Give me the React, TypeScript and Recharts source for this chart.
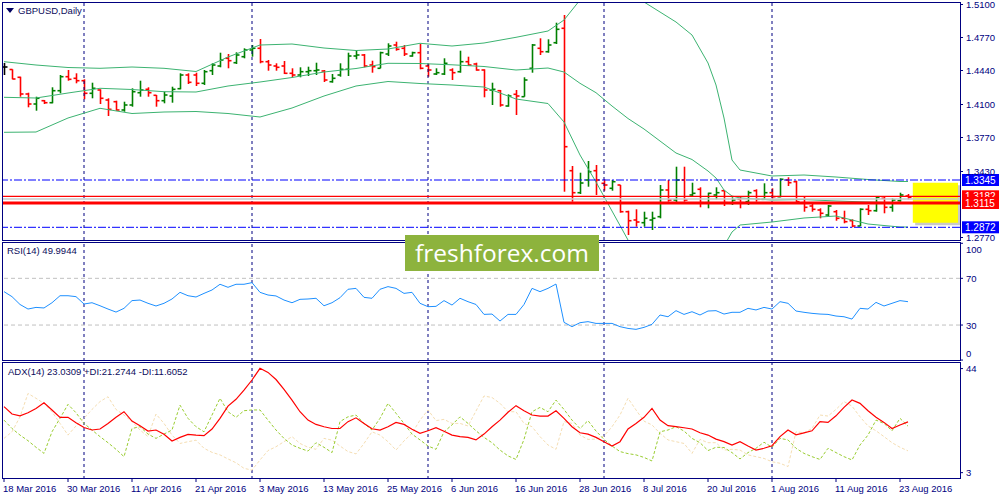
import React from 'react';
import { ComposedChart, Bar, Line, XAxis, YAxis, ReferenceLine, ReferenceArea } from 'recharts';

const FONT = '"Liberation Sans", Arial, sans-serif';
const NAVY = '#000080';
const UP = '#008000';
const DOWN = '#FF0000';
const X_DOMAIN: [number, number] = [-0.25, 119.5];

// daily OHLC, 18 Mar 2016 .. 24 Aug 2016 (one entry per trading day)
const open = [
  1.4475, 1.4450, 1.4372, 1.4205, 1.4105, 1.4138, 1.4118, 1.4238, 1.4378, 1.4362,
  1.4338, 1.4212, 1.4245, 1.4145, 1.4128, 1.4045, 1.4095, 1.4218, 1.4252, 1.4192,
  1.4138, 1.4185, 1.4258, 1.4395, 1.4395, 1.4312, 1.4438, 1.4485, 1.4562, 1.4518,
  1.4578, 1.4645, 1.4662, 1.4528, 1.4485, 1.4485, 1.4412, 1.4395, 1.4428, 1.4438,
  1.4435, 1.4328, 1.4395, 1.4452, 1.4585, 1.4595, 1.4495, 1.4462, 1.4605, 1.4695,
  1.4662, 1.4585, 1.4618, 1.4485, 1.4405, 1.4405, 1.4445, 1.4428, 1.4528, 1.4505,
  1.4445, 1.4245, 1.4238, 1.4085, 1.4202, 1.4178, 1.4462, 1.4662, 1.4628, 1.4718,
  1.4862, 1.3438, 1.3218, 1.3345, 1.3438, 1.3312, 1.3262, 1.3295, 1.3028, 1.2945,
  1.2918, 1.2945, 1.2978, 1.3245, 1.3145, 1.3345, 1.3195, 1.3252, 1.3118, 1.3195,
  1.3238, 1.3112, 1.3152, 1.3128, 1.3238, 1.3152, 1.3218, 1.3178, 1.3345, 1.3328,
  1.3118, 1.3085, 1.3045, 1.2995, 1.3028, 1.2962, 1.2938, 1.2885, 1.3052, 1.3038,
  1.3162, 1.3072, 1.3138, 1.3185,
];
const high = [
  1.4515, 1.4452, 1.4378, 1.4218, 1.4178, 1.4145, 1.4272, 1.4395, 1.4445, 1.4412,
  1.4352, 1.4318, 1.4252, 1.4162, 1.4138, 1.4128, 1.4262, 1.4338, 1.4272, 1.4195,
  1.4228, 1.4278, 1.4412, 1.4412, 1.4418, 1.4445, 1.4512, 1.4618, 1.4605, 1.4622,
  1.4662, 1.4695, 1.4755, 1.4545, 1.4512, 1.4535, 1.4462, 1.4472, 1.4478, 1.4518,
  1.4445, 1.4405, 1.4512, 1.4618, 1.4645, 1.4605, 1.4538, 1.4628, 1.4712, 1.4728,
  1.4695, 1.4628, 1.4705, 1.4505, 1.4462, 1.4562, 1.4462, 1.4638, 1.4578, 1.4518,
  1.4452, 1.4318, 1.4245, 1.4202, 1.4245, 1.4372, 1.4705, 1.4762, 1.4752, 1.4918,
  1.4995, 1.3485, 1.3418, 1.3535, 1.3495, 1.3352, 1.3345, 1.3295, 1.3038, 1.3052,
  1.3028, 1.3028, 1.3295, 1.3345, 1.3478, 1.3478, 1.3318, 1.3272, 1.3218, 1.3272,
  1.3238, 1.3172, 1.3185, 1.3238, 1.3252, 1.3312, 1.3262, 1.3362, 1.3372, 1.3338,
  1.3178, 1.3112, 1.3062, 1.3095, 1.3045, 1.3038, 1.2952, 1.3062, 1.3095, 1.3178,
  1.3178, 1.3162, 1.3218, 1.3205,
];
const low = [
  1.4395, 1.4352, 1.4178, 1.4072, 1.4038, 1.4105, 1.4112, 1.4212, 1.4338, 1.4312,
  1.4152, 1.4162, 1.4105, 1.3985, 1.4038, 1.4028, 1.4078, 1.4178, 1.4178, 1.4078,
  1.4112, 1.4118, 1.4252, 1.4305, 1.4285, 1.4295, 1.4395, 1.4472, 1.4462, 1.4505,
  1.4562, 1.4578, 1.4512, 1.4438, 1.4438, 1.4405, 1.4372, 1.4372, 1.4385, 1.4395,
  1.4325, 1.4318, 1.4378, 1.4385, 1.4552, 1.4472, 1.4418, 1.4462, 1.4585, 1.4638,
  1.4585, 1.4578, 1.4452, 1.4378, 1.4395, 1.4395, 1.4345, 1.4418, 1.4485, 1.4438,
  1.4172, 1.4095, 1.4078, 1.4078, 1.3995, 1.4178, 1.4418, 1.4595, 1.4618, 1.4705,
  1.3228, 1.3128, 1.3205, 1.3278, 1.3195, 1.3238, 1.3238, 1.3018, 1.2795, 1.2878,
  1.2878, 1.2845, 1.2962, 1.3128, 1.3105, 1.3128, 1.3178, 1.3072, 1.3062, 1.3152,
  1.3085, 1.3095, 1.3062, 1.3095, 1.3128, 1.3145, 1.3152, 1.3172, 1.3285, 1.3112,
  1.3028, 1.3028, 1.2962, 1.2978, 1.2938, 1.2912, 1.2872, 1.2885, 1.2995, 1.3028,
  1.3012, 1.3028, 1.3128, 1.3152,
];
const close = [
  1.4475, 1.4355, 1.4205, 1.4105, 1.4162, 1.4118, 1.4238, 1.4378, 1.4352, 1.4338,
  1.4212, 1.4262, 1.4162, 1.4052, 1.4045, 1.4095, 1.4228, 1.4245, 1.4218, 1.4138,
  1.4195, 1.4252, 1.4395, 1.4322, 1.4312, 1.4428, 1.4495, 1.4545, 1.4538, 1.4595,
  1.4645, 1.4662, 1.4528, 1.4495, 1.4472, 1.4412, 1.4395, 1.4428, 1.4438, 1.4445,
  1.4345, 1.4362, 1.4452, 1.4585, 1.4595, 1.4485, 1.4478, 1.4618, 1.4685, 1.4652,
  1.4605, 1.4618, 1.4462, 1.4445, 1.4418, 1.4512, 1.4418, 1.4528, 1.4495, 1.4445,
  1.4245, 1.4252, 1.4095, 1.4185, 1.4185, 1.4345, 1.4695, 1.4628, 1.4695, 1.4852,
  1.3678, 1.3218, 1.3315, 1.3428, 1.3345, 1.3295, 1.3328, 1.3028, 1.2938, 1.2925,
  1.2962, 1.2962, 1.3245, 1.3145, 1.3345, 1.3145, 1.3212, 1.3118, 1.3212, 1.3218,
  1.3118, 1.3145, 1.3118, 1.3218, 1.3152, 1.3218, 1.3178, 1.3352, 1.3318, 1.3128,
  1.3072, 1.3052, 1.3012, 1.3085, 1.2962, 1.2928, 1.2885, 1.3052, 1.3038, 1.3172,
  1.3072, 1.3145, 1.3195, 1.3172,
];

// Bollinger bands, read at these bar positions
const bandIdx = [0, 4, 8, 12, 16, 20, 24, 28, 32, 36, 40, 44, 48, 52, 56, 60, 64, 68, 70, 72, 74, 76, 78, 80, 84, 86, 88, 89, 90, 91, 92, 96, 100, 104, 108, 112, 113];
const upper = [1.4528, 1.4495, 1.4470, 1.4462, 1.4475, 1.4462, 1.4430, 1.4575, 1.4695, 1.4705, 1.4665, 1.4640, 1.4655, 1.4712, 1.4685, 1.4715, 1.4772, 1.4835, 1.4945, 1.5145, 1.5225, 1.5265, 1.5225, 1.5125, 1.4925, 1.4795, 1.4515, 1.4295, 1.3965, 1.3545, 1.3445, 1.3385, 1.3395, 1.3375, 1.3350, 1.3330, 1.3330];
const middle = [1.4172, 1.4165, 1.4215, 1.4262, 1.4250, 1.4228, 1.4225, 1.4285, 1.4325, 1.4370, 1.4425, 1.4460, 1.4512, 1.4510, 1.4497, 1.4480, 1.4445, 1.4465, 1.4425, 1.4312, 1.4218, 1.4085, 1.3960, 1.3855, 1.3615, 1.3550, 1.3435, 1.3365, 1.3245, 1.3185, 1.3165, 1.3145, 1.3150, 1.3135, 1.3125, 1.3118, 1.3118];
const lower = [1.3822, 1.3825, 1.3965, 1.4062, 1.4010, 1.4025, 1.4030, 1.4010, 1.3975, 1.4065, 1.4185, 1.4285, 1.4330, 1.4310, 1.4295, 1.4275, 1.4155, 1.4110, 1.3925, 1.3595, 1.3325, 1.3035, 1.2745, 1.2525, 1.2295, 1.2345, 1.2495, 1.2595, 1.2685, 1.2825, 1.2895, 1.2925, 1.2965, 1.2985, 1.2905, 1.2875, 1.2875];

const rsi = [
  58.6, 54.3, 47.6, 43.7, 45.1, 44.6, 49.1, 55.1, 55.1, 54.3,
  48.0, 49.1, 46.5, 43.7, 41.1, 44.3, 50.9, 51.4, 48.6, 46.3,
  48.6, 52.3, 58.0, 55.1, 54.0, 57.1, 60.0, 64.9, 62.3, 64.9,
  64.9, 66.3, 58.0, 55.7, 54.9, 51.4, 49.1, 52.0, 52.3, 52.9,
  46.5, 49.1, 53.4, 60.6, 61.4, 53.7, 52.9, 60.6, 62.9, 61.4,
  57.1, 58.0, 48.6, 45.7, 46.0, 50.9, 47.1, 52.9, 50.0, 47.6,
  39.1, 39.4, 33.4, 39.1, 39.1, 47.6, 61.4, 58.6, 61.4, 65.1,
  32.3, 28.6, 32.0, 32.9, 31.4, 31.4, 31.4, 28.6, 27.1, 26.3,
  28.0, 30.6, 38.6, 37.1, 42.3, 39.1, 41.4, 38.6, 42.0, 42.3,
  39.4, 40.9, 40.9, 44.3, 42.9, 45.1, 43.7, 50.0, 48.6, 42.0,
  40.9, 40.0, 39.4, 39.1, 37.7, 37.1, 35.1, 44.3, 43.7, 49.4,
  46.3, 48.6, 50.9, 50.0,
];

const adx = [
  29.0, 26.1, 25.4, 26.6, 28.3, 30.5, 27.7, 24.8, 24.8, 22.7,
  20.8, 19.8, 20.2, 22.4, 24.8, 27.0, 23.3, 21.5, 19.4, 19.8,
  18.1, 15.5, 16.9, 18.1, 17.8, 17.6, 20.2, 24.4, 29.2, 31.9,
  35.5, 39.5, 44.1, 42.5, 39.7, 35.8, 31.6, 27.0, 23.7, 22.0,
  21.1, 20.4, 20.4, 23.1, 24.6, 22.4, 20.3, 19.8, 21.1, 22.8,
  22.0, 20.1, 18.5, 19.5, 20.7, 19.3, 17.8, 17.2, 16.9, 15.9,
  18.2, 21.1, 23.7, 26.8, 29.4, 27.4, 25.7, 25.3, 25.3, 27.4,
  24.4, 21.1, 18.7, 18.2, 16.9, 15.2, 13.5, 15.2, 20.2, 22.4,
  24.8, 28.3, 23.7, 21.5, 21.1, 20.7, 20.2, 18.7, 17.8, 16.2,
  15.2, 13.9, 15.2, 13.5, 11.9, 12.6, 13.6, 17.2, 19.8, 17.9,
  18.7, 19.5, 23.1, 22.8, 25.4, 28.7, 31.6, 30.3, 27.4, 24.8,
  22.8, 20.4, 21.8, 23.0,
];
const plusDi = [
  23.7, 20.4, 17.8, 15.6, 13.0, 10.6, 19.1, 24.4, 29.9, 26.6,
  22.4, 19.8, 17.2, 14.8, 12.2, 9.3, 20.4, 21.1, 18.2, 16.5,
  18.2, 19.8, 29.6, 24.4, 21.1, 19.1, 25.7, 32.3, 27.0, 24.8,
  27.4, 27.7, 27.7, 23.7, 19.8, 16.5, 13.9, 12.6, 11.5, 14.8,
  13.0, 10.9, 23.1, 25.0, 25.7, 22.4, 19.8, 24.4, 30.3, 26.4,
  22.4, 18.2, 15.9, 13.5, 12.2, 19.1, 21.8, 25.0, 22.4, 19.5,
  16.9, 14.8, 11.9, 9.6, 8.2, 16.1, 27.0, 28.7, 27.0, 31.6,
  27.9, 23.7, 20.4, 23.5, 19.4, 16.1, 13.5, 11.3, 10.5, 10.0,
  9.0, 7.6, 19.1, 19.8, 21.1, 19.4, 16.5, 14.8, 11.7, 13.0,
  12.9, 10.9, 8.4, 10.9, 12.6, 15.0, 13.0, 16.5, 15.9, 12.6,
  10.6, 9.3, 8.2, 12.6, 10.9, 9.3, 8.0, 13.9, 17.8, 23.7,
  22.4, 19.5, 24.4, 21.3,
];
const minusDi = [
  16.5, 19.1, 25.0, 34.2, 32.3, 30.3, 27.0, 22.4, 17.8, 21.4,
  24.4, 27.9, 31.0, 32.9, 27.9, 25.7, 23.1, 19.8, 17.2, 26.1,
  22.4, 17.8, 14.5, 15.2, 15.8, 12.6, 11.0, 10.0, 8.4, 6.9,
  4.7, 4.0, 8.0, 11.7, 13.2, 15.2, 17.2, 14.5, 13.0, 12.2,
  16.5, 15.8, 13.5, 11.3, 10.4, 14.5, 19.1, 17.8, 15.2, 11.9,
  15.5, 18.5, 23.7, 27.7, 23.5, 24.0, 22.4, 22.4, 21.4, 27.3,
  33.2, 32.6, 30.3, 27.0, 27.0, 22.4, 21.1, 17.2, 13.9, 12.2,
  23.1, 22.4, 17.8, 16.1, 16.2, 17.4, 21.1, 25.7, 32.3, 27.7,
  23.3, 21.8, 18.5, 15.9, 15.2, 14.5, 10.6, 16.1, 14.8, 14.8,
  11.9, 12.2, 11.9, 10.0, 9.3, 8.6, 7.3, 6.7, 5.4, 19.1,
  18.7, 20.4, 25.7, 25.3, 27.9, 31.0, 29.2, 25.0, 21.4, 19.5,
  17.2, 14.8, 13.0, 11.6,
];

const monthStarts = [10, 31, 53, 75, 96];
const dateTickIdx = [0, 8, 16, 24, 32, 40, 48, 56, 64, 72, 80, 88, 96, 104, 112];
const dateLabels = ['18 Mar 2016', '30 Mar 2016', '11 Apr 2016', '21 Apr 2016', '3 May 2016', '13 May 2016', '25 May 2016', '6 Jun 2016', '16 Jun 2016', '28 Jun 2016', '8 Jul 2016', '20 Jul 2016', '1 Aug 2016', '11 Aug 2016', '23 Aug 2016'];
const priceTicks = [1.277, 1.343, 1.377, 1.41, 1.444, 1.477, 1.51];

const bars = open.map((o, i) => ({ i, open: o, high: high[i], low: low[i], close: close[i] }));
const bands = bandIdx.map((b, k) => ({ i: b, upper: upper[k], middle: middle[k], lower: lower[k] }));
const rsiData = rsi.map((v, i) => ({ i, rsi: v }));
const adxData = adx.map((v, i) => ({ i, adx: v, plusDi: plusDi[i], minusDi: minusDi[i] }));

// MT4 style bar: high-low stick, open tick left, close tick right
function OhlcBar(props: any) {
  const { x, y, width, height, payload } = props;
  if (!payload || height == null) return null;
  const cx = Math.round(x + width / 2) + 0.5;
  const top = Math.min(y, y + height);
  const h = Math.abs(height);
  const span = payload.high - payload.low || 1;
  const toY = (p: number) => top + ((payload.high - p) / span) * h;
  const color = payload.close > payload.open ? UP : payload.close < payload.open ? DOWN : '#000';
  const yo = toY(payload.open);
  const yc = toY(payload.close);
  return (
    <g stroke={color} strokeWidth={1.6}>
      <line x1={cx} x2={cx} y1={top} y2={top + h} />
      <line x1={cx - 3} x2={cx} y1={yo} y2={yo} />
      <line x1={cx} x2={cx + 3} y1={yc} y2={yc} />
    </g>
  );
}

function PriceTag(props: any) {
  const { viewBox, fill, text } = props;
  if (!viewBox) return null;
  const right = viewBox.x + viewBox.width;
  const cy = viewBox.y;
  return (
    <g>
      <rect x={right + 2} y={cy - 6} width={37} height={12} fill={fill} />
      <text x={right + 5} y={cy + 3.5} fill="#fff" fontSize={10} fontFamily={FONT}>{text}</text>
    </g>
  );
}

function RsiTick(props: any) {
  const { x, y, payload } = props;
  const v = payload.value;
  const dy = v === 100 ? 6 : v === 0 ? -7 : 0;
  return (
    <text x={x} y={y + dy + 3.5} fill={NAVY} fontSize={9.5} fontFamily={FONT}>{v}</text>
  );
}

function DateTick(props: any) {
  const { x, y, payload } = props;
  const k = dateTickIdx.indexOf(payload.value);
  return (
    <g>
      <line x1={x} x2={x} y1={y} y2={y + 3} stroke={NAVY} />
      <text x={x - 1} y={y + 13} fill={NAVY} fontSize={9.5} fontFamily={FONT}>{dateLabels[k]}</text>
    </g>
  );
}

const yTick = { fill: NAVY, fontSize: 9.5, fontFamily: FONT };

const paneBox = (top: number, height: number): React.CSSProperties => ({
  position: 'absolute', left: 2, top, width: 959, height, border: `1px solid ${NAVY}`, boxSizing: 'border-box', pointerEvents: 'none',
});
const caption: React.CSSProperties = {
  position: 'absolute', fontFamily: FONT, fontSize: 9.5, color: '#0c0c5c', whiteSpace: 'nowrap', lineHeight: '12px',
};

export default function App() {
  return (
    <div style={{ position: 'absolute', left: 0, top: 0, width: 1000, height: 500, background: '#fff', overflow: 'hidden' }}>
      <div style={{ position: 'absolute', left: 0, top: 0 }}>
        <ComposedChart width={1000} height={241} data={bars} margin={{ top: 2, right: 0, bottom: 1, left: 2 }}>
          <XAxis type="number" dataKey="i" domain={X_DOMAIN} hide allowDataOverflow />
          <YAxis orientation="right" width={40} domain={[1.2745, 1.5125]} allowDataOverflow ticks={priceTicks} interval={0}
            tickFormatter={(v: number) => v.toFixed(4)} tick={yTick} axisLine={false} tickLine={{ stroke: NAVY }} tickSize={3} tickMargin={3} />
          {monthStarts.map((m) => (
            <ReferenceLine key={m} x={m} stroke={NAVY} strokeDasharray="3 3" />
          ))}
          <Line data={bands} dataKey="upper" stroke="#3CB371" strokeWidth={1} dot={false} activeDot={false} isAnimationActive={false} />
          <Line data={bands} dataKey="middle" stroke="#3CB371" strokeWidth={1} dot={false} activeDot={false} isAnimationActive={false} />
          <Line data={bands} dataKey="lower" stroke="#3CB371" strokeWidth={1} dot={false} activeDot={false} isAnimationActive={false} />
          <Bar dataKey={(d: any) => [d.low, d.high]} barSize={7} shape={<OhlcBar />} isAnimationActive={false} />
          <ReferenceLine y={1.3155} stroke="#C8C8C8" strokeWidth={1.5} />
          <ReferenceLine y={1.3345} stroke="#0000FF" strokeDasharray="8 2 2 2" label={<PriceTag fill="#0000FF" text="1.3345" />} />
          <ReferenceLine y={1.2872} stroke="#0000FF" strokeDasharray="8 2 2 2" label={<PriceTag fill="#0000FF" text="1.2872" />} />
          <ReferenceLine y={1.3182} stroke="#FF0000" strokeWidth={1.2} label={<PriceTag fill="#FF0000" text="1.3182" />} />
          <ReferenceLine y={1.3115} stroke="#FF0000" strokeWidth={3} label={<PriceTag fill="#FF0000" text="1.3115" />} />
          <ReferenceArea x1={113.9} x2={119.5} y1={1.2893} y2={1.3293} fill="#888" fillOpacity={0.45} />
          <ReferenceArea x1={113.6} x2={119.25} y1={1.2918} y2={1.3318} fill="#FFFF00" fillOpacity={1} />
        </ComposedChart>
      </div>

      <div style={{ position: 'absolute', left: 0, top: 241 }}>
        <ComposedChart width={1000} height={120} data={rsiData} margin={{ top: 1, right: 0, bottom: 0, left: 2 }}>
          <XAxis type="number" dataKey="i" domain={X_DOMAIN} hide allowDataOverflow />
          <YAxis orientation="right" width={40} domain={[-0.8, 101.1]} allowDataOverflow ticks={[0, 30, 70, 100]} interval={0}
            tick={<RsiTick />} axisLine={false} tickLine={{ stroke: NAVY }} tickSize={3} tickMargin={3} />
          {monthStarts.map((m) => (
            <ReferenceLine key={m} x={m} stroke={NAVY} strokeDasharray="3 3" />
          ))}
          <ReferenceLine y={70} stroke="#C0C0C0" strokeDasharray="4 3" />
          <ReferenceLine y={30} stroke="#C0C0C0" strokeDasharray="4 3" />
          <Line dataKey="rsi" stroke="#1E90FF" strokeWidth={1} dot={false} activeDot={false} isAnimationActive={false} />
        </ComposedChart>
      </div>

      <div style={{ position: 'absolute', left: 0, top: 362 }}>
        <ComposedChart width={1000} height={138} data={adxData} margin={{ top: 1, right: 0, bottom: 1, left: 2 }}>
          <XAxis type="number" dataKey="i" domain={X_DOMAIN} allowDataOverflow ticks={dateTickIdx} interval={0} height={20}
            tick={<DateTick />} axisLine={false} tickLine={false} tickSize={0} tickMargin={0} />
          <YAxis orientation="right" width={40} domain={[0.5, 46.2]} allowDataOverflow ticks={[3, 44]} interval={0}
            tick={yTick} axisLine={false} tickLine={{ stroke: NAVY }} tickSize={3} tickMargin={3} />
          {monthStarts.map((m) => (
            <ReferenceLine key={m} x={m} stroke={NAVY} strokeDasharray="3 3" />
          ))}
          <Line dataKey="minusDi" stroke="#F5DEB3" strokeWidth={1} strokeDasharray="3 2" dot={false} activeDot={false} isAnimationActive={false} />
          <Line dataKey="plusDi" stroke="#9ACD32" strokeWidth={1} strokeDasharray="3 2" dot={false} activeDot={false} isAnimationActive={false} />
          <Line dataKey="adx" stroke="#FF0000" strokeWidth={1.2} dot={false} activeDot={false} isAnimationActive={false} />
        </ComposedChart>
      </div>

      <div style={paneBox(2, 239)} />
      <div style={paneBox(242, 119)} />
      <div style={paneBox(362, 117)} />

      <div style={{ ...caption, left: 6, top: 5 }}>
        <svg width={8} height={6} style={{ marginRight: 4, verticalAlign: 'middle' }}>
          <polygon points="0,0 8,0 4,5" fill="#000060" />
        </svg>
        GBPUSD,Daily
      </div>
      <div style={{ ...caption, left: 7, top: 245 }}>RSI(14) 49.9944</div>
      <div style={{ ...caption, left: 8, top: 366 }}>ADX(14) 23.0309 +DI:21.2744 -DI:11.6052</div>

      <div style={{
        position: 'absolute', left: 405, top: 235, width: 194, height: 36, background: '#8DB33D', color: '#fff',
        fontFamily: '"Open Sans", sans-serif', fontSize: 24.5, lineHeight: '35px', textAlign: 'center',
      }}>
        freshforex.com
      </div>
    </div>
  );
}
